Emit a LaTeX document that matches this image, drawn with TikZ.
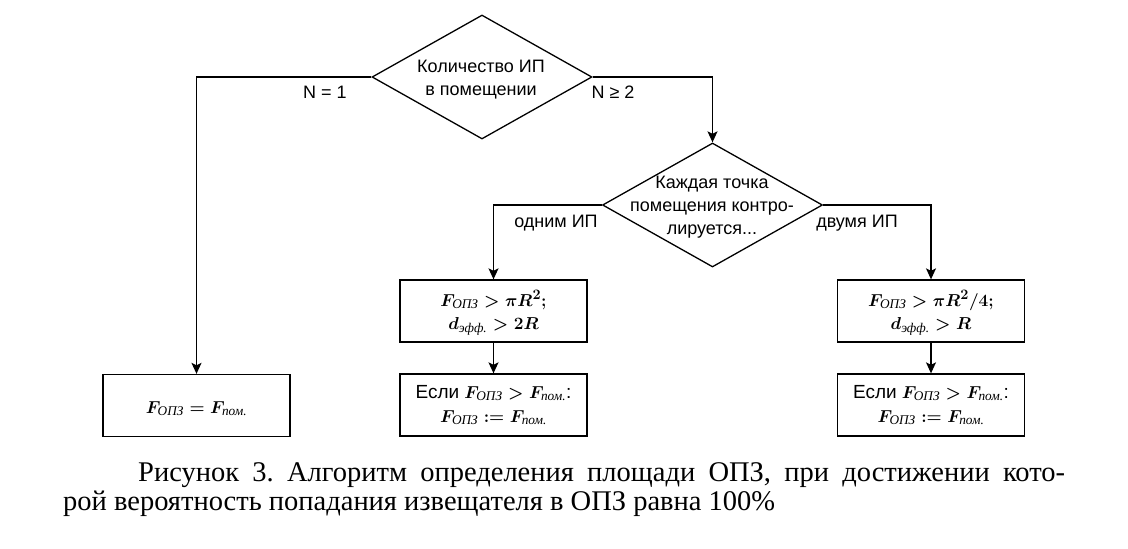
\documentclass[tikz,border=0pt]{standalone}
\usepackage{fontspec}
\usepackage{amsmath}
\setmainfont{Liberation Sans}
\newfontfamily\capfont{Liberation Serif}
\newfontfamily\subfont{Liberation Serif}
\usetikzlibrary{shapes.geometric,arrows.meta}
\newcommand{\sbt}[1]{\text{\subfont\itshape #1}}
\frenchspacing
\tikzset{
  arr/.style={line width=1.3pt,-{Stealth[length=11pt,width=10pt,inset=2.5pt]}},
  dia/.style={draw,line width=1.3pt,shape=diamond,inner sep=0pt,minimum width=220pt,minimum height=124pt},
  box/.style={draw,line width=1.3pt,minimum width=187pt,minimum height=62pt,inner sep=0pt},
  mtext/.style={font=\fontsize{19}{23}\selectfont\boldmath,inner sep=0pt,anchor=base},
  lbl/.style={font=\fontsize{18}{22}\selectfont,inner sep=0pt,anchor=base},
  captxt/.style={font=\capfont\fontsize{28.5}{30}\selectfont\frenchspacing,inner sep=0pt,anchor=base west}
}
\begin{document}
\begin{tikzpicture}[x=1pt,y=-1pt]
\useasboundingbox (0,0) rectangle (1128,549);
% decision 1
\node[dia] (d1) at (482,77) {};
\node[lbl] (d1a) at (481,72) {Количество ИП};
\node[lbl] (d1b) at (481,95) {в помещении};
% decision 2
\node[dia] (d2) at (712.5,205) {};
\node[lbl] (d2a) at (712,188) {Каждая точка};
\node[lbl] (d2b) at (712,211) {помещения контро-};
\node[lbl] (d2c) at (712,234) {лируется...};
% boxes
\node[box] (bl) at (196.5,405.5) {};
\node[mtext] (blt) at (196.5,413) {$F_{\sbt{ОПЗ}} = F_{\sbt{пом.}}$};
\node[box] (b1) at (493.5,311) {};
\node[mtext] (b1a) at (493.5,306) {$F_{\sbt{ОПЗ}} > \pi R^2;$};
\node[mtext] (b1b) at (493.5,329) {$d_{\sbt{эфф.}} > 2R$};
\node[box] (b2) at (493.5,405) {};
\node[mtext] (b2a) at (493.5,398) {{\unboldmath Если} $F_{\sbt{ОПЗ}} > F_{\sbt{пом.}}$:};
\node[mtext] (b2b) at (493.5,422) {$F_{\sbt{ОПЗ}} := F_{\sbt{пом.}}$};
\node[box] (b3) at (931,311) {};
\node[mtext] (b3a) at (931,306) {$F_{\sbt{ОПЗ}} > \pi R^2/4;$};
\node[mtext] (b3b) at (931,329) {$d_{\sbt{эфф.}} > R$};
\node[box] (b4) at (931,405) {};
\node[mtext] (b4a) at (931,398) {{\unboldmath Если} $F_{\sbt{ОПЗ}} > F_{\sbt{пом.}}$:};
\node[mtext] (b4b) at (931,422) {$F_{\sbt{ОПЗ}} := F_{\sbt{пом.}}$};
% connectors
\draw[arr] (d1.west) -| (bl.north);
\draw[arr] (d1.east) -| (d2.north);
\draw[arr] (d2.west) -| (b1.north);
\draw[arr] (d2.east) -| (b3.north);
\draw[arr] (b1.south) -- (b2.north);
\draw[arr] (b3.south) -- (b4.north);
% labels
\node[lbl] (l1) at (325,98) {N = 1};
\node[lbl] (l2) at (613,98) {N ≥ 2};
\node[lbl] (l3) at (556,227) {одним ИП};
\node[lbl] (l4) at (857,227) {двумя ИП};
% caption
\node[captxt] (c1) at (138,481) {\makebox[927pt][s]{Рисунок 3. Алгоритм определения площади ОПЗ, при достижении кото-}};
\node[captxt] (c2) at (63,510) {рой вероятность попадания извещателя в ОПЗ равна 100\%};
\end{tikzpicture}
\end{document}
